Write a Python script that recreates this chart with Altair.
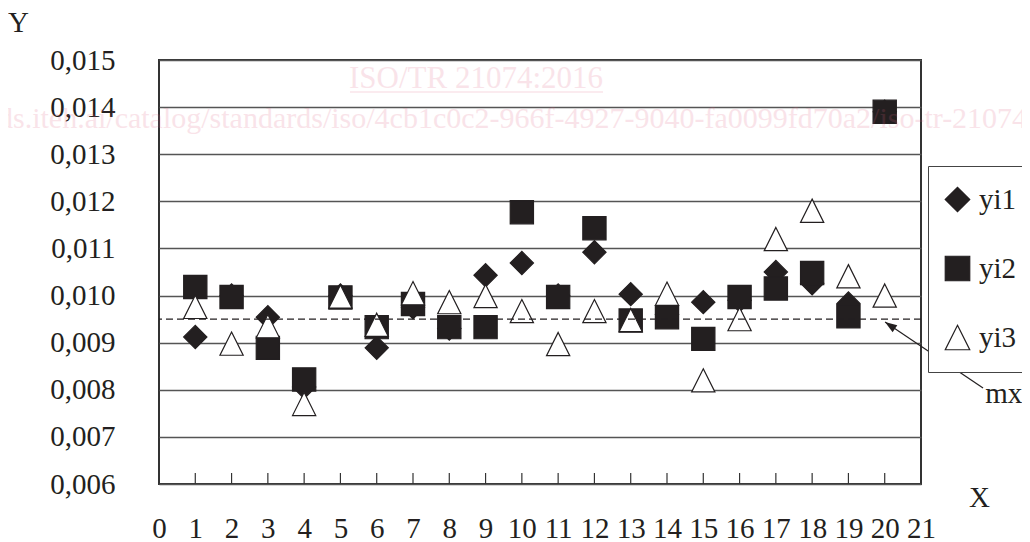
import altair as alt
import pandas as pd

# ---------------- data ----------------
x_vals = list(range(1, 21))
series_names = ["yi1", "yi2", "yi3"]
yi1 = [0.00912, 0.01000, 0.00954, 0.00806, 0.01000, 0.00889, 0.00975, 0.00930, 0.01043, 0.01069,
       0.01000, 0.01092, 0.01003, 0.00960, 0.00986, 0.00990, 0.01050, 0.01026, 0.00983, 0.01390]
yi2 = [0.01018, 0.00997, 0.00889, 0.00822, 0.00996, 0.00933, 0.00982, 0.00933, 0.00933, 0.01177,
       0.00997, 0.01143, 0.00947, 0.00954, 0.00908, 0.00997, 0.01015, 0.01048, 0.00956, 0.01390]
yi3 = [0.00976, 0.00898, 0.00935, 0.00770, 0.00998, 0.00938, 0.01005, 0.00986, 0.00999, 0.00967,
       0.00897, 0.00967, 0.00948, 0.01004, 0.00820, 0.00950, 0.01120, 0.01180, 0.01041, 0.01000]
mx_value = [0.0095]
x_tick_labels = list(range(0, 22))
y_tick_values = [0.006, 0.007, 0.008, 0.009, 0.010, 0.011, 0.012, 0.013, 0.014, 0.015]

# annotation (arrow to the mean line and its label), in data units
arrow_x = [22.71, 20.01]
arrow_y = [0.00804, 0.00944]
arrow_head_x = [20.145]
arrow_head_y = [0.009367]
mx_label_x = [23.28]
mx_label_y = [0.00791]
mx_label_text = ["mx"]

wm_iso_text = ["ISO/TR 21074:2016"]
wm_url_text = ["https://standards.iteh.ai/catalog/standards/iso/4cb1c0c2-966f-4927-9040-fa0099fd70a2/iso-tr-21074-2016"]

rows = []
for name, vals in zip(series_names, [yi1, yi2, yi3]):
    for xv, yv in zip(x_vals, vals):
        rows.append({"x": xv, "y": yv, "series": name})
df = pd.DataFrame(rows)

FONT = "Liberation Serif"
INK = "#231f20"
FS = 29
PINK = "#e06080"
WM_OP = 0.17

xscale = alt.Scale(domain=[0, 21], nice=False, zero=False)
yscale = alt.Scale(domain=[0.006, 0.015], nice=False, zero=False)

tri_path = "M0,-1L1,1L-1,1Z"

legend = alt.Legend(
    title=None, orient="none", legendX=769, legendY=106, padding=19, rowPadding=38,
    symbolSize=600, symbolOffset=-4, labelFont=FONT, labelFontSize=FS, labelColor=INK, labelOffset=7,
    strokeColor="#444", fillColor="white", symbolStrokeWidth=1.2,
)

x_axis = alt.Axis(
    values=x_tick_labels, format="d", grid=False, ticks=False, domain=False,
    labelFont=FONT, labelFontSize=FS, labelColor=INK, labelPadding=30,
    labelFlush=False, labelOverlap=False,
    title="X", titleFont=FONT, titleFontSize=FS, titleFontWeight="normal", titleColor=INK,
    titleX=820, titleY=13, titleAlign="center", titleBaseline="middle", titleAngle=0,
)
y_axis = alt.Axis(
    values=y_tick_values, labelExpr="replace(format(datum.value, '.3f'), '.', ',')",
    grid=True, gridColor="#555", gridWidth=1.3, ticks=False, tickSize=0, domain=False,
    labelFont=FONT, labelFontSize=FS, labelColor=INK, labelPadding=44,
    labelFlush=False, labelOverlap=False,
    title="Y", titleFont=FONT, titleFontSize=FS, titleFontWeight="normal", titleColor=INK,
    titleX=-141, titleY=-38, titleAlign="center", titleBaseline="middle", titleAngle=0,
)

X = lambda: alt.X("x:Q", scale=xscale, axis=x_axis)
Y = lambda: alt.Y("y:Q", scale=yscale, axis=y_axis)

points = alt.Chart(df).mark_point(
    filled=True, size=540, strokeWidth=1.2, opacity=1
).encode(
    x=X(), y=Y(),
    shape=alt.Shape("series:N", scale=alt.Scale(domain=series_names, range=["diamond", "square", tri_path]), legend=legend),
    fill=alt.Fill("series:N", scale=alt.Scale(domain=series_names, range=[INK, INK, "#ffffff"]), legend=legend),
    stroke=alt.Stroke("series:N", scale=alt.Scale(domain=series_names, range=[INK, INK, INK]), legend=legend),
)

mx_rule = alt.Chart(pd.DataFrame({"y": mx_value})).mark_rule(
    color=INK, strokeDash=[7, 4], strokeWidth=1.2
).encode(y=Y())

ticks = alt.Chart(pd.DataFrame({"x": x_vals})).mark_rule(color="#333", strokeWidth=1.2).encode(
    x=X(), y=alt.value(413), y2=alt.value(424)
)

arrow_df = pd.DataFrame({"x": arrow_x, "y": arrow_y, "o": [0, 1]})
arrow_line = alt.Chart(arrow_df).mark_line(color=INK, strokeWidth=1.2).encode(
    x=X(), y=Y(), order="o:Q"
)
arrow_head = alt.Chart(pd.DataFrame({"x": arrow_head_x, "y": arrow_head_y})).mark_point(
    shape="M0,-1L0.7,1L-0.7,1Z", size=144, filled=True, color=INK, opacity=1, angle=303.9
).encode(x=X(), y=Y())

mx_text = alt.Chart(pd.DataFrame({"x": mx_label_x, "y": mx_label_y, "t": mx_label_text})).mark_text(
    font=FONT, fontSize=FS, color=INK, align="center", baseline="middle"
).encode(x=X(), y=Y(), text="t:N")

wm_iso = alt.Chart(pd.DataFrame({"t": wm_iso_text})).mark_text(
    font=FONT, fontSize=31, color=PINK, opacity=WM_OP, align="center", baseline="alphabetic"
).encode(text="t:N", x=alt.value(317), y=alt.value(28))
wm_line = alt.Chart(pd.DataFrame({"t": wm_iso_text})).mark_rule(
    color=PINK, opacity=WM_OP, strokeWidth=1.5
).encode(x=alt.value(191), x2=alt.value(444), y=alt.value(32))
wm_url = alt.Chart(pd.DataFrame({"t": wm_url_text})).mark_text(
    font=FONT, fontSize=30, color=PINK, opacity=WM_OP, align="left", baseline="alphabetic"
).encode(text="t:N", x=alt.value(-331), y=alt.value(68))

chart = alt.layer(
    points, wm_iso, wm_line, wm_url, mx_rule, ticks, arrow_line, arrow_head, mx_text
).properties(
    width=762, height=424,
    padding={"left": 151, "top": 52, "right": 101, "bottom": 54},
    autosize=alt.AutoSizeParams(type="none"),
    background="white",
).configure_view(stroke="#333", strokeWidth=2)

chart.save("out.html", embed_options={"renderer": "svg", "actions": False})
